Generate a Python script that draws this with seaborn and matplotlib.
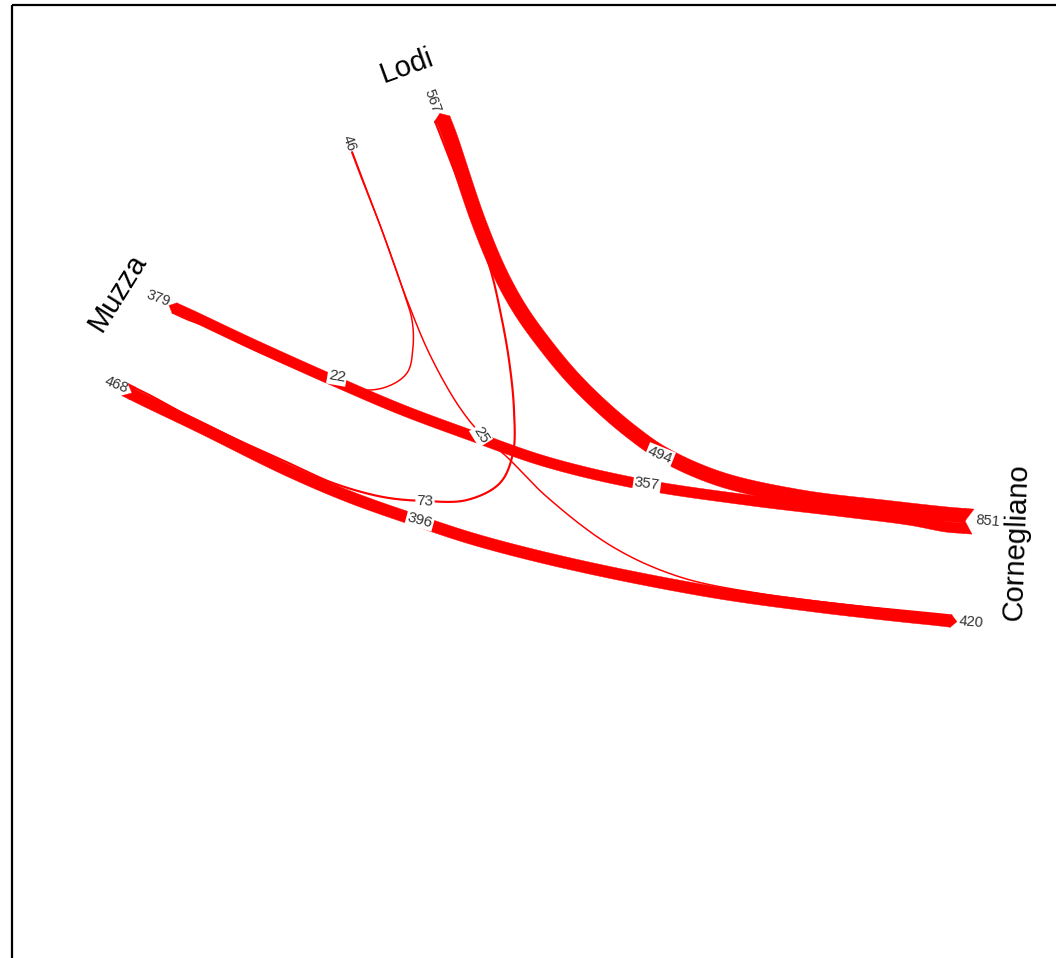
import numpy as np
import matplotlib.pyplot as plt
import seaborn as sns

sns.set_theme(style="white")
plt.rcParams['font.family'] = ['Liberation Sans', 'DejaVu Sans']

# nodes (each node has two ends on its axis)
node_names = ['Lodi', 'Muzza', 'Cornegliano']
end_names = ['Lodi_a', 'Lodi_b', 'Muzza_a', 'Muzza_b', 'Corn_a', 'Corn_b']
end_totals = [567, 46, 379, 468, 851, 420]

# flows between node ends
flow_src = ['Lodi_a', 'Lodi_a', 'Lodi_b', 'Lodi_b', 'Muzza_a', 'Muzza_b']
flow_dst = ['Corn_a', 'Muzza_b', 'Muzza_a', 'Corn_b', 'Corn_a', 'Corn_b']
flow_val = [494, 73, 22, 25, 357, 396]

# ---- layout (pixel space) ----
k = 0.0295         # px per unit of flow
red = '#ff0000'

# end centre, inward direction, cap style
end_layout = {
    'Lodi_a': ((442, 119), (0.363, 0.932), 'point'),
    'Lodi_b': ((352, 152), (0.35, 0.937), 'none'),
    'Muzza_a': ((174.5, 308), (0.911, 0.413), 'point'),
    'Muzza_b': ((132, 393), (0.897, 0.442), 'notch'),
    'Corn_a': ((965, 521), (-0.997, -0.08), 'notch'),
    'Corn_b': ((951, 621), (-0.99, -0.11), 'point'),
}
# stacking of flows at each end, from the +normal side
end_order = {
    'Lodi_a': [1, 0], 'Lodi_b': [2, 3], 'Muzza_a': [2, 4],
    'Muzza_b': [5, 1], 'Corn_a': [0, 4], 'Corn_b': [3, 5],
}
flow_route = [
    [(478, 220), (500, 273), (521, 311), (547, 347), (572, 377), (600, 405),
     (633, 433), (665, 455), (720, 479), (800, 497), (890, 508)],
    [(464, 196), (490, 268), (500, 310), (509, 360), (514, 410), (513, 453),
     (500, 483), (467, 500), (425, 501), (383, 497), (333, 483), (293, 465),
     (240, 441), (190, 417)],
    [(380, 225), (403, 290), (412, 320), (413, 347), (407, 373), (383, 388),
     (345, 388), (300, 370), (250, 348), (205, 326)],
    [(380, 225), (407, 300), (430, 355), (458, 405), (480, 433), (507, 457),
     (547, 497), (613, 547), (680, 577), (763, 594), (850, 605), (910, 611)],
    [(250, 343), (330, 379), (400, 409), (467, 434), (547, 462), (640, 484),
     (747, 500), (847, 512), (910, 520)],
    [(200, 427), (287, 470), (350, 497), (418, 521), (480, 541), (580, 566),
     (713, 592), (813, 606), (900, 616)],
]
flow_label_pos = [(660, 455), (425, 501), (337, 377), (481, 435), (647, 484), (420, 520)]
flow_label_rot = [-22, -2, -10, -58, -8, -15]
end_label_pos = [(432, 101), (349, 143), (158, 298), (116, 385), (988, 521), (971, 622)]
end_label_rot = [-70, -70, -20, -22, -5, -5]
node_label_pos = [(407, 66), (118, 292), (1016, 542)]
node_label_rot = [20, 58, 88]


def crom(points, n=30, alpha=0.5):
    P = [np.asarray(p, float) for p in points]
    P = [2 * P[0] - P[1]] + P + [2 * P[-1] - P[-2]]
    out = []
    for i in range(1, len(P) - 2):
        p0, p1, p2, p3 = P[i - 1], P[i], P[i + 1], P[i + 2]
        t0 = 0.0
        t1 = t0 + max(np.linalg.norm(p1 - p0), 1e-6) ** alpha
        t2 = t1 + max(np.linalg.norm(p2 - p1), 1e-6) ** alpha
        t3 = t2 + max(np.linalg.norm(p3 - p2), 1e-6) ** alpha
        t = np.linspace(t1, t2, n, endpoint=False)[:, None]
        a1 = (t1 - t) / (t1 - t0) * p0 + (t - t0) / (t1 - t0) * p1
        a2 = (t2 - t) / (t2 - t1) * p1 + (t - t1) / (t2 - t1) * p2
        a3 = (t3 - t) / (t3 - t2) * p2 + (t - t2) / (t3 - t2) * p3
        b1 = (t2 - t) / (t2 - t0) * a1 + (t - t0) / (t2 - t0) * a2
        b2 = (t3 - t) / (t3 - t1) * a2 + (t - t1) / (t3 - t1) * a3
        out.append((t2 - t) / (t2 - t1) * b1 + (t - t1) / (t2 - t1) * b2)
    out.append(P[-2][None])
    return np.vstack(out)


def end_point(end, fi):
    c, t, _ = end_layout[end]
    c, t = np.array(c, float), np.array(t, float)
    nrm = np.array([-t[1], t[0]])
    total = end_totals[end_names.index(end)]
    off = k * total / 2
    for j in end_order[end]:
        w = k * flow_val[j]
        if j == fi:
            off -= w / 2
            break
        off -= w
    p = c + nrm * off
    return p, p + t * 18


fig = plt.figure(figsize=(10.56, 9.58), dpi=100)
ax = fig.add_axes([0, 0, 1, 1])

for i, v in enumerate(flow_val):
    p0, l0 = end_point(flow_src[i], i)
    p1, l1 = end_point(flow_dst[i], i)
    pts = crom([p0, l0] + flow_route[i] + [l1, p1])
    if v < 100:
        sns.lineplot(x=pts[:, 0], y=pts[:, 1], sort=False, estimator=None,
                     color=red, lw=max(k * v, 1.5) / 1.389, ax=ax, zorder=2)
    else:
        d = np.gradient(pts, axis=0)
        d /= np.linalg.norm(d, axis=1)[:, None]
        nv = np.column_stack([-d[:, 1], d[:, 0]])
        w = k * v / 2
        poly = np.vstack([pts + nv * w, (pts - nv * w)[::-1]])
        ax.fill(poly[:, 0], poly[:, 1], color=red, lw=0.3, ec=red, zorder=2)

# end caps
for e, total in zip(end_names, end_totals):
    c, t, style = end_layout[e]
    c, t = np.array(c, float), np.array(t, float)
    nrm = np.array([-t[1], t[0]])
    w = k * total / 2
    if style == 'point':
        poly = [c + nrm * w + t, c + nrm * w, c - t * 6, c - nrm * w, c - nrm * w + t]
    elif style == 'notch':
        poly = [c + nrm * w + t, c + nrm * w - t * 8, c, c - nrm * w - t * 8, c - nrm * w + t]
    else:
        continue
    poly = np.array(poly)
    ax.fill(poly[:, 0], poly[:, 1], color=red, lw=0.3, ec=red, zorder=2)

for i, v in enumerate(flow_val):
    x, y = flow_label_pos[i]
    ax.text(x, y, str(v), fontsize=11, color='#333333', ha='center', va='center',
            rotation=flow_label_rot[i], rotation_mode='anchor', zorder=4,
            bbox=dict(boxstyle='square,pad=0.08', fc='white', ec='none'))

for i, v in enumerate(end_totals):
    x, y = end_label_pos[i]
    ax.text(x, y, str(v), fontsize=10.5, color='#333333', ha='center', va='center',
            rotation=end_label_rot[i], rotation_mode='anchor', zorder=4)

for i, name in enumerate(node_names):
    x, y = node_label_pos[i]
    ax.text(x, y, name, fontsize=21, color='black', ha='center', va='center',
            rotation=node_label_rot[i], rotation_mode='anchor', zorder=4)

ax.add_patch(plt.Rectangle((12, 5), 1500, 1500, fill=False, ec='black', lw=1.6))
ax.set_xlim(0, 1056)
ax.set_ylim(958, 0)
ax.axis('off')

fig.savefig('out.png', dpi=100)
